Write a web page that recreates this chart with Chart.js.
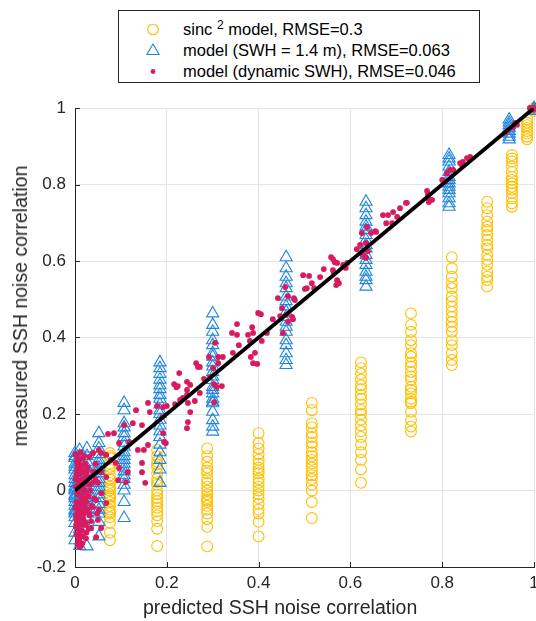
<!DOCTYPE html>
<html><head><meta charset="utf-8">
<script src="https://cdn.jsdelivr.net/npm/chart.js@4"></script>
<style>
html,body{margin:0;padding:0;background:#fff;overflow:hidden;width:536px;height:621px}
#wrap{position:relative;width:536px;height:621px;overflow:hidden}
#c{position:absolute;left:0;top:0}
#legend{position:absolute;left:118px;top:10px;width:362px;height:73px;border:1px solid #262626;background:#fff;font-family:"Liberation Sans",Arial,sans-serif;font-size:16.5px;color:#000;box-sizing:border-box}
.row{position:absolute;left:0;width:100%;height:21px;line-height:21px;white-space:nowrap}
.row svg{position:absolute;left:22px;top:0}
.row span{position:absolute;left:64px;top:0}
.row sup{font-size:12px;vertical-align:6px;line-height:0}
.ttl{position:absolute;font-family:"Liberation Sans",Arial,sans-serif;font-size:19.5px;color:#262626;white-space:nowrap;line-height:1}
</style></head>
<body>
<div id="wrap">
<canvas id="c" width="545" height="621"></canvas>
<div id="legend">
  <div class="row" style="top:8px"><svg width="24" height="21"><circle cx="12" cy="10.5" r="5.3" fill="none" stroke="#FFC000" stroke-width="1.1"/></svg><span>sinc <sup>2</sup> model, RMSE=0.3</span></div>
  <div class="row" style="top:29px"><svg width="24" height="21"><polygon points="12,4 18.1,14.5 5.9,14.5" fill="none" stroke="#1F86DE" stroke-width="1.1"/></svg><span>model (SWH = 1.4 m), RMSE=0.063</span></div>
  <div class="row" style="top:50px"><svg width="24" height="21"><circle cx="12" cy="10.5" r="2.4" fill="#D81B60"/></svg><span>model (dynamic SWH), RMSE=0.046</span></div>
</div>
<div class="ttl" id="xt" style="left:143px;top:598px">predicted SSH noise correlation</div>
<div class="ttl" id="yt" style="left:11px;top:306px;transform-origin:0 0;transform:rotate(-90deg) translate(-50%,0)">measured SSH noise correlation</div>
</div>
<script>
// tick labels / axis ranges
const xTicks = [0, 0.2, 0.4, 0.6, 0.8, 1];
const yTicks = [-0.2, 0, 0.2, 0.4, 0.6, 0.8, 1];

// column positions (predicted correlation) for each measured group
const yellowX = [0.076, 0.179, 0.288, 0.400, 0.516, 0.623, 0.732, 0.821, 0.898, 0.952, 0.985, 1.000];
const blueX   = [0.000, 0.010, 0.026, 0.052, 0.107, 0.185, 0.300, 0.460, 0.634, 0.815, 0.946, 1.000];

// measured correlation values per group
const g1Y  = [0.098, 0.09, 0.085, 0.07, 0.062, 0.055, 0.04, 0.03, 0.02, 0.01, 0.005, 0.0, -0.01, -0.015, -0.02, -0.03, -0.04, -0.05, -0.055, -0.06, -0.07, -0.085, -0.11, -0.13];
const g2Y  = [0.106, 0.09, 0.075, 0.068, 0.06, 0.045, 0.03, 0.022, 0.015, 0.0, -0.01, -0.02, -0.028, -0.035, -0.045, -0.055, -0.065, -0.08, -0.1, -0.145];
const g3Y  = [0.11, 0.09, 0.075, 0.06, 0.052, 0.045, 0.03, 0.02, 0.01, 0.0, -0.01, -0.02, -0.025, -0.03, -0.04, -0.05, -0.06, -0.075, -0.095, -0.146];
const g4Y  = [0.15, 0.124, 0.11, 0.095, 0.08, 0.07, 0.06, 0.052, 0.045, 0.03, 0.02, 0.01, 0.0, -0.01, -0.02, -0.035, -0.05, -0.06, -0.082, -0.12];
const g5Y  = [0.229, 0.21, 0.176, 0.165, 0.15, 0.14, 0.125, 0.115, 0.1, 0.09, 0.08, 0.07, 0.06, 0.05, 0.04, 0.03, 0.015, 0.0, -0.03, -0.072];
const g6Y  = [0.335, 0.32, 0.305, 0.29, 0.275, 0.265, 0.25, 0.24, 0.225, 0.21, 0.2, 0.185, 0.17, 0.155, 0.14, 0.12, 0.1, 0.08, 0.055, 0.02];
const g7Y  = [0.463, 0.433, 0.415, 0.393, 0.38, 0.359, 0.35, 0.335, 0.324, 0.31, 0.298, 0.289, 0.271, 0.263, 0.254, 0.24, 0.232, 0.228, 0.206, 0.184, 0.167, 0.154];
const g8Y  = [0.61, 0.581, 0.559, 0.542, 0.529, 0.507, 0.495, 0.481, 0.467, 0.454, 0.441, 0.428, 0.415, 0.393, 0.38, 0.359, 0.341, 0.328];
const g9Y  = [0.755, 0.738, 0.72, 0.703, 0.69, 0.681, 0.668, 0.655, 0.642, 0.633, 0.616, 0.603, 0.59, 0.572, 0.559, 0.55, 0.533];
const g10Y = [0.877, 0.868, 0.86, 0.847, 0.833, 0.82, 0.812, 0.803, 0.794, 0.786, 0.777, 0.764, 0.751, 0.742];
const g11Y = [0.97, 0.962, 0.955, 0.948, 0.94, 0.933, 0.925, 0.918];
const g12Y = [1.0, 0.996, 0.992];
const groupsY = [g1Y, g2Y, g3Y, g4Y, g5Y, g6Y, g7Y, g8Y, g9Y, g10Y, g11Y, g12Y];

// dynamic SWH model points
const redX = [
0.003,0.010,0.018,0.006,0.014,0.022,0.004,0.012,0.020,0.008,0.016,0.024,0.002,0.011,0.019,0.005,0.013,0.021,0.003,0.009,0.017,0.025,0.006,0.014,0.020,0.002,0.010,0.018,0.004,0.012,0.007,0.015,0.003,0.011,0.009,0.028,0.030,0.033,0.027,0.035,0.040,0.045,0.038,0.042,0.025,0.016,0.001,0.005,0.022,0.008,
0.001,0.007,0.015,0.023,0.001,0.009,0.017,0.006,0.015,0.022,0.001,0.008,0.016,0.023,0.002,0.010,0.018,0.005,0.013,0.004,0.012,0.020,0.026,0.031,0.029,0.032,0.030,0.019,0.007,0.011,0.004,0.013,0.021,0.003,0.024,0.036,0.044,0.048,
0.133,0.072,0.085,0.107,0.126,0.096,0.118,0.137,0.146,0.150,0.159,0.146,0.153,0.192,0.194,0.198,0.052,0.039,0.031,0.057,0.068,0.078,0.089,0.096,0.094,0.111,0.115,0.057,0.068,0.050,0.057,0.046,0.039,0.031,0.052,0.068,0.024,0.050,0.035,0.009,0.007,0.046,0.057,
0.146,0.159,0.163,0.179,0.192,0.200,0.190,0.216,0.227,0.224,0.244,0.251,0.244,0.244,0.235,0.229,0.218,0.246,0.261,0.272,0.251,0.246,0.244,0.264,0.268,0.281,0.294,0.305,0.292,0.301,0.312,0.322,0.312,0.303,0.309,0.320,0.303,0.342,0.353,0.353,0.357,0.344,0.377,0.386,0.388,0.381,0.383,0.392,0.388,0.397,0.399,0.405,0.407,0.272,0.221,
0.497,0.510,0.501,0.505,0.516,0.521,0.534,0.542,0.558,0.562,0.566,0.571,0.562,0.564,0.571,0.575,0.569,0.590,0.584,0.458,0.464,0.477,0.479,0.442,0.451,0.431,0.447,0.460,0.473,0.475,0.464,0.453,0.418,0.614,0.621,0.625,0.634,0.632,0.645,0.654,
0.636,0.656,0.671,0.682,0.693,0.678,0.691,0.702,0.708,0.721,0.723,0.767,0.769,0.769,0.627,0.638,0.634,0.593,
0.778,0.771,0.800,0.810,0.817,0.806,0.839,0.845,0.843,0.861,0.854,0.824,0.937,0.943,0.954,0.959,0.963,0.991,0.998,1.000];
const redY = [
0.090,0.080,0.085,0.060,0.065,0.070,0.040,0.045,0.050,0.025,0.030,0.020,0.010,0.005,0.000,-0.010,-0.015,-0.020,-0.030,-0.035,-0.040,-0.030,-0.050,-0.055,-0.060,-0.065,-0.070,-0.075,-0.085,-0.090,-0.100,-0.105,-0.115,-0.120,-0.130,0.060,0.035,0.000,-0.050,-0.080,0.050,0.070,0.020,-0.020,-0.110,-0.138,-0.045,-0.095,-0.005,0.065,
0.095,0.072,0.055,0.040,0.030,0.015,0.012,-0.002,-0.028,-0.045,-0.045,-0.060,-0.065,-0.085,-0.095,-0.110,-0.120,-0.140,-0.145,0.075,0.100,0.090,0.050,0.015,-0.015,-0.065,-0.100,-0.090,-0.080,-0.040,0.050,0.025,0.000,-0.075,-0.125,-0.040,0.030,-0.060,
0.210,0.148,0.150,0.171,0.176,0.124,0.127,0.106,0.072,0.106,0.119,0.048,0.020,0.150,0.127,0.124,0.106,0.098,0.088,0.098,0.093,0.080,0.072,0.059,0.027,0.022,0.048,0.048,0.035,0.020,-0.007,-0.025,-0.043,-0.059,-0.051,-0.033,-0.090,-0.077,-0.098,-0.148,-0.129,-0.122,-0.098,
0.171,0.229,0.205,0.221,0.218,0.221,0.192,0.278,0.307,0.273,0.284,0.276,0.263,0.250,0.242,0.237,0.226,0.229,0.234,0.255,0.205,0.179,0.163,0.333,0.323,0.292,0.297,0.386,0.349,0.320,0.349,0.349,0.333,0.278,0.271,0.273,0.231,0.412,0.435,0.407,0.380,0.360,0.407,0.427,0.412,0.391,0.349,0.360,0.333,0.331,0.464,0.461,0.391,0.323,0.270,
0.563,0.561,0.527,0.529,0.542,0.529,0.558,0.579,0.610,0.605,0.597,0.595,0.576,0.569,0.550,0.542,0.537,0.582,0.590,0.532,0.508,0.503,0.498,0.503,0.477,0.448,0.456,0.459,0.454,0.448,0.441,0.412,0.412,0.631,0.642,0.673,0.647,0.610,0.673,0.678,
0.689,0.676,0.720,0.720,0.728,0.699,0.699,0.715,0.738,0.752,0.752,0.783,0.773,0.765,0.616,0.626,0.608,0.595,
0.760,0.754,0.812,0.830,0.838,0.807,0.856,0.859,0.851,0.872,0.869,0.838,0.935,0.942,0.950,0.961,0.956,1.000,0.995,1.000];

// identity reference line
const lineX = [0, 1];
const lineY = [0, 1];

const yellowPts = [], bluePts = [];
groupsY.forEach((ys, g) => ys.forEach(v => { yellowPts.push({x: yellowX[g], y: v}); bluePts.push({x: blueX[g], y: v}); }));
const redPts = redX.map((x, i) => ({x, y: redY[i]}));
const linePts = lineX.map((x, i) => ({x, y: lineY[i]}));

const AX = '#262626';
const insideTicks = {
  id: 'insideTicks',
  beforeDatasetsDraw(chart) {
    const {ctx, chartArea: a, scales: {x, y}} = chart;
    ctx.save();
    ctx.strokeStyle = AX; ctx.lineWidth = 1;
    ctx.beginPath();
    xTicks.forEach(v => { const px = Math.round(x.getPixelForValue(v)) + 0.5; ctx.moveTo(px, a.bottom); ctx.lineTo(px, a.bottom - 5); });
    yTicks.forEach(v => { const py = Math.round(y.getPixelForValue(v)) + 0.5; ctx.moveTo(a.left, py); ctx.lineTo(a.left + 5, py); });
    ctx.stroke();
    ctx.restore();
  }
};

const tickFont = {family: '"Liberation Sans", Arial, sans-serif', size: 17};
const fmt = v => String(+Number(v).toFixed(1));

new Chart(document.getElementById('c'), {
  type: 'scatter',
  data: {
    datasets: [
      {label: 'identity', type: 'line', data: linePts, borderColor: '#000', borderWidth: 3.8, pointRadius: 0, fill: false, order: 0},
      {label: 'model (dynamic SWH), RMSE=0.046', data: redPts, pointStyle: 'circle', pointRadius: 2.9, backgroundColor: '#D81B60', borderColor: '#D81B60', borderWidth: 0, order: 1, clip: false},
      {label: 'model (SWH = 1.4 m), RMSE=0.063', data: bluePts, pointStyle: 'triangle', pointRadius: 7, backgroundColor: 'rgba(0,0,0,0)', borderColor: '#1F86DE', borderWidth: 1.1, order: 2, clip: false},
      {label: 'sinc² model, RMSE=0.3', data: yellowPts, pointStyle: 'circle', pointRadius: 5.4, backgroundColor: 'rgba(0,0,0,0)', borderColor: '#FFC000', borderWidth: 1.1, order: 3, clip: false}
    ]
  },
  options: {
    responsive: false, animation: false, devicePixelRatio: 1,
    layout: {padding: {left: 0, right: 11, top: 108, bottom: 0}},
    plugins: {legend: {display: false}, tooltip: {enabled: false}},
    elements: {point: {hoverRadius: 0}},
    scales: {
      x: {
        type: 'linear', min: 0, max: 1,
        afterBuildTicks: s => { s.ticks = xTicks.map(v => ({value: v})); },
        afterFit: s => { s.height = 54; },
        ticks: {font: tickFont, color: AX, padding: 6, maxRotation: 0, callback: fmt},
        grid: {color: '#e4e4e4', drawTicks: false},
        border: {display: true, color: AX, width: 1}
      },
      y: {
        type: 'linear', min: -0.2, max: 1,
        afterBuildTicks: s => { s.ticks = yTicks.map(v => ({value: v})); },
        afterFit: s => { s.width = 75; },
        ticks: {font: tickFont, color: AX, padding: 9, callback: fmt},
        grid: {color: '#e4e4e4', drawTicks: false},
        border: {display: true, color: AX, width: 1}
      }
    }
  },
  plugins: [insideTicks]
});
</script>
</body></html>
